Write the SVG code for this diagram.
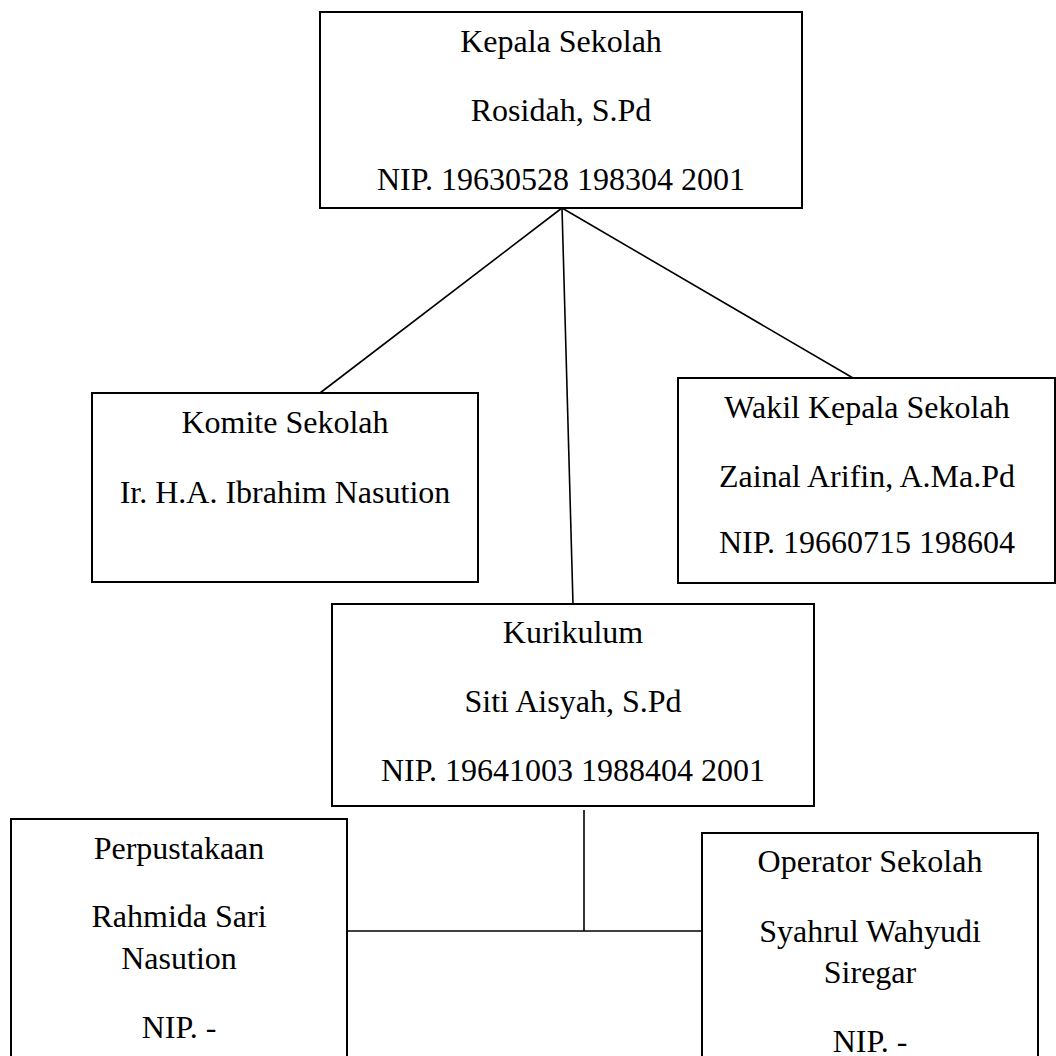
<svg xmlns="http://www.w3.org/2000/svg" width="1056" height="1056" viewBox="0 0 1056 1056">
<style>
.box{fill:#fff;stroke:#000;stroke-width:2}
.t{font-family:"Liberation Serif","Times New Roman",serif;font-size:32px;fill:#000;text-anchor:middle}
.c{stroke:#000;stroke-width:1.6;fill:none}
</style>
<rect width="1056" height="1056" fill="#fff"/>
<g id="connectors">
<line class="c" x1="562" y1="208" x2="320" y2="393"/>
<line class="c" x1="562" y1="208" x2="853" y2="378"/>
<line class="c" x1="562" y1="208" x2="573" y2="604"/>
<line class="c" x1="584" y1="810" x2="584" y2="931"/>
<line class="c" x1="347" y1="931" x2="702" y2="931"/>
</g>
<g id="kepala">
<rect class="box" x="320" y="12" width="482" height="196"/>
<text class="t" x="561" y="52">Kepala Sekolah</text>
<text class="t" x="561" y="121">Rosidah, S.Pd</text>
<text class="t" x="561" y="190">NIP. 19630528 198304 2001</text>
</g>
<g id="komite">
<rect class="box" x="92" y="393" width="386" height="189"/>
<text class="t" x="285" y="433">Komite Sekolah</text>
<text class="t" x="285" y="503">Ir. H.A. Ibrahim Nasution</text>
</g>
<g id="wakil">
<rect class="box" x="678" y="378" width="377" height="205"/>
<text class="t" x="867" y="418">Wakil Kepala Sekolah</text>
<text class="t" x="867" y="487">Zainal Arifin, A.Ma.Pd</text>
<text class="t" x="867" y="553">NIP. 19660715 198604</text>
</g>
<g id="kurikulum">
<rect class="box" x="332" y="604" width="482" height="202"/>
<text class="t" x="573" y="643">Kurikulum</text>
<text class="t" x="573" y="712">Siti Aisyah, S.Pd</text>
<text class="t" x="573" y="781">NIP. 19641003 1988404 2001</text>
</g>
<g id="perpustakaan">
<rect class="box" x="11" y="819" width="336" height="260"/>
<text class="t" x="179" y="859">Perpustakaan</text>
<text class="t" x="179" y="927">Rahmida Sari</text>
<text class="t" x="179" y="969">Nasution</text>
<text class="t" x="179" y="1038">NIP. -</text>
</g>
<g id="operator">
<rect class="box" x="702" y="833" width="336" height="260"/>
<text class="t" x="870" y="872">Operator Sekolah</text>
<text class="t" x="870" y="942">Syahrul Wahyudi</text>
<text class="t" x="870" y="983">Siregar</text>
<text class="t" x="870" y="1052">NIP. -</text>
</g>
</svg>
